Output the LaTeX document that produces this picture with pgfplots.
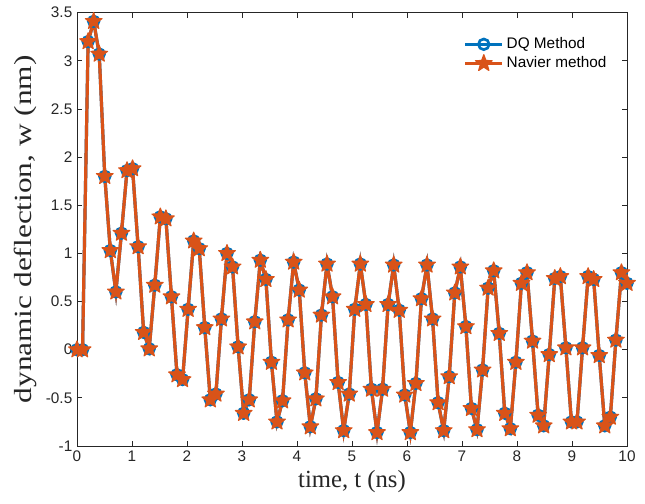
\documentclass[border=0pt]{standalone}
\usepackage{pgfplots}
\pgfplotsset{compat=1.18}
\usepackage{pgfplotstable}
\usepackage{fontspec}
\setmainfont{Liberation Sans}
\newfontfamily\timesf{Liberation Serif}
\newfontfamily\timesw[FakeStretch=1.27]{Liberation Serif}
\definecolor{mblue}{rgb}{0,0.447,0.741}
\definecolor{morange}{rgb}{0.850,0.325,0.098}
\definecolor{axgray}{rgb}{0.15,0.15,0.15}

\pgfdeclareplotmark{fstar}{%
 \pgfpathmoveto{\pgfpointpolar{90}{\pgfplotmarksize}}%
 \pgfpathlineto{\pgfpointpolar{126}{0.42\pgfplotmarksize}}%
 \pgfpathlineto{\pgfpointpolar{162}{\pgfplotmarksize}}%
 \pgfpathlineto{\pgfpointpolar{198}{0.42\pgfplotmarksize}}%
 \pgfpathlineto{\pgfpointpolar{234}{\pgfplotmarksize}}%
 \pgfpathlineto{\pgfpointpolar{270}{0.42\pgfplotmarksize}}%
 \pgfpathlineto{\pgfpointpolar{306}{\pgfplotmarksize}}%
 \pgfpathlineto{\pgfpointpolar{342}{0.42\pgfplotmarksize}}%
 \pgfpathlineto{\pgfpointpolar{18}{\pgfplotmarksize}}%
 \pgfpathlineto{\pgfpointpolar{54}{0.42\pgfplotmarksize}}%
 \pgfpathclose
 \pgfusepathqfillstroke}

\pgfplotstableread{
t w
0 0
0.1010 0
0.2020 3.20
0.3030 3.41
0.4040 3.07
0.5051 1.80
0.6061 1.03
0.7071 0.60
0.8081 1.21
0.9091 1.86
1.0101 1.88
1.1111 1.07
1.2121 0.18
1.3131 0.01
1.4141 0.67
1.5152 1.38
1.6162 1.36
1.7172 0.55
1.8182 -0.26
1.9192 -0.31
2.0202 0.42
2.1212 1.13
2.2222 1.05
2.3232 0.23
2.4242 -0.52
2.5253 -0.46
2.6263 0.32
2.7273 1.00
2.8283 0.86
2.9293 0.03
3.0303 -0.66
3.1313 -0.52
3.2323 0.29
3.3333 0.93
3.4343 0.73
3.5354 -0.13
3.6364 -0.75
3.7374 -0.53
3.8384 0.31
3.9394 0.91
4.0404 0.62
4.1414 -0.24
4.2424 -0.80
4.3434 -0.51
4.4444 0.36
4.5455 0.89
4.6465 0.55
4.7475 -0.34
4.8485 -0.84
4.9495 -0.46
5.0505 0.42
5.1515 0.89
5.2525 0.47
5.3535 -0.41
5.4545 -0.86
5.5556 -0.41
5.6566 0.47
5.7576 0.88
5.8586 0.41
5.9596 -0.47
6.0606 -0.86
6.1616 -0.35
6.2626 0.53
6.3636 0.88
6.4646 0.32
6.5657 -0.55
6.6667 -0.84
6.7677 -0.28
6.8687 0.59
6.9697 0.86
7.0707 0.24
7.1717 -0.61
7.2727 -0.83
7.3737 -0.21
7.4747 0.64
7.5758 0.82
7.6768 0.17
7.7778 -0.66
7.8788 -0.82
7.9798 -0.13
8.0808 0.69
8.1818 0.80
8.2828 0.09
8.3838 -0.68
8.4848 -0.79
8.5859 -0.05
8.6869 0.74
8.7879 0.76
8.8889 0.02
8.9899 -0.75
9.0909 -0.75
9.1919 0.02
9.2929 0.76
9.3939 0.73
9.4949 -0.06
9.5960 -0.79
9.6970 -0.70
9.7980 0.10
9.8990 0.80
10.0000 0.69
}\datatable

\begin{document}
\begin{tikzpicture}
\begin{axis}[
  name=ax,
  scale only axis,
  width=412.5pt, height=325pt,
  xmin=0, xmax=10, ymin=-1, ymax=3.5,
  xtick={0,1,2,3,4,5,6,7,8,9,10},
  ytick={-1,-0.5,0,0.5,1,1.5,2,2.5,3,3.5},
  /pgf/number format/assume math mode=true,
  tick label style={font=\fontsize{11.5}{13}\selectfont, color=axgray},
  axis line style={axgray, line width=0.6pt},
  tick style={axgray, line width=0.6pt},
  major tick length=4pt,
  clip=false,
  xlabel={\timesf time, t (ns)},
  ylabel={\timesw dynamic deflection, w (nm)},
  xlabel style={font=\fontsize{18.5}{20}\selectfont, color=axgray},
  ylabel style={font=\fontsize{18.5}{20}\selectfont, color=axgray},
  legend cell align=left,
  legend style={draw=none, fill=none, at={(rel axis cs:0.695,0.955)}, anchor=north west,
    font=\fontsize{11.5}{13}\selectfont, row sep=0.5pt},
  legend image code/.code={\draw[mark repeat=2,mark phase=2,line width=2.4pt,#1] plot coordinates {(0pt,0pt) (14pt,0pt) (28pt,0pt)};},
]
\addplot[mblue, line width=2.4pt, mark=o, mark size=4pt,
  mark options={solid, fill=white, line width=2pt}] table[x=t,y=w]{\datatable};
\addlegendentry{DQ Method}
\addplot[morange, line width=2.4pt, mark=fstar, mark size=6.6pt,
  mark options={solid, fill=morange, line width=0.8pt, line join=round}] table[x=t,y=w]{\datatable};
\addlegendentry{Navier method}
\end{axis}
\pgfresetboundingbox
\path ([xshift=-57.75pt,yshift=-43.5pt]ax.south west) rectangle ([xshift=13.5pt,yshift=9.5pt]ax.north east);
\end{tikzpicture}
\end{document}
